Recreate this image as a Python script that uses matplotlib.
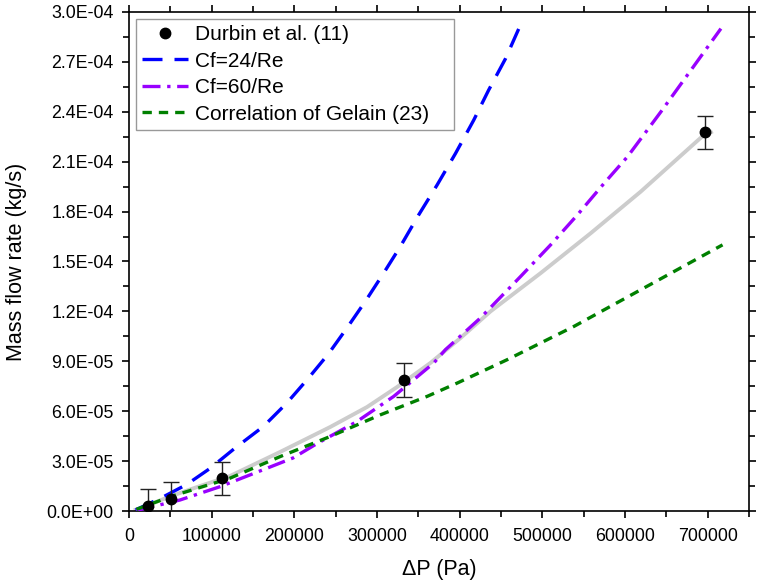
import numpy as np
import matplotlib.pyplot as plt
from matplotlib.lines import Line2D
from matplotlib.ticker import MultipleLocator, FuncFormatter

plt.rcParams['font.family'] = ['Liberation Sans', 'DejaVu Sans']

# Experimental data (Durbin et al.)
dp_exp = [23000, 50300, 112000, 333000, 697000]
m_exp = [3.2e-6, 7.2e-6, 1.97e-5, 7.87e-5, 2.277e-4]
m_err = [1.0e-5, 1.0e-5, 1.0e-5, 1.0e-5, 1.0e-5]

# grey guide curve through the data
dp_fit = [8000, 23000, 50000, 80000, 122000, 182800, 243400, 287900, 324200, 364600,
          401000, 437300, 497900, 558500, 619000, 691900, 704000]
m_fit = [0.8e-6, 3.5e-6, 8.8e-6, 1.4e-5, 2.1e-5, 3.55e-5, 5.05e-5, 6.25e-5, 7.45e-5, 8.9e-5,
         1.04e-4, 1.20e-4, 1.43e-4, 1.67e-4, 1.92e-4, 2.245e-4, 2.277e-4]

# Cf=24/Re
dp_24 = [8000, 41000, 70000, 98300, 128200, 162500, 190900, 217100, 241300, 263600,
         285800, 308000, 328200, 350400, 372700, 395000, 417000, 435000, 455500, 476000]
m_24 = [0.6e-6, 8.4e-6, 1.6e-5, 2.57e-5, 3.78e-5, 5.08e-5, 6.49e-5, 7.99e-5, 9.45e-5, 1.10e-4,
        1.26e-4, 1.43e-4, 1.59e-4, 1.78e-4, 1.96e-4, 2.15e-4, 2.35e-4, 2.53e-4, 2.72e-4, 2.95e-4]

# Cf=60/Re
dp_60 = [9000, 61600, 110000, 146400, 198500, 227300, 275800, 320200, 368700, 382800,
         425000, 473700, 510000, 542400, 574700, 603000, 643400, 716000]
m_60 = [0.3e-6, 6.6e-6, 1.46e-5, 2.17e-5, 3.19e-5, 4.05e-5, 5.38e-5, 6.89e-5, 8.9e-5, 9.7e-5,
        1.16e-4, 1.41e-4, 1.60e-4, 1.78e-4, 1.97e-4, 2.13e-4, 2.40e-4, 2.90e-4]

# Correlation of Gelain
dp_g = [9000, 50000, 122000, 182800, 243400, 304000, 360600, 397000, 457600, 538300, 619000, 718000]
m_g = [1.0e-6, 8.6e-6, 1.97e-5, 3.27e-5, 4.48e-5, 5.78e-5, 6.89e-5, 7.69e-5, 9.1e-5, 1.11e-4, 1.33e-4, 1.60e-4]

blue_ls = dict(color='#0000ff', lw=2.4, dashes=(6, 3.6))
purple_ls = dict(color='#9900ff', lw=2.4, dashes=(5.4, 2, 1, 2))
green_ls = dict(color='#008000', lw=2.4, dashes=(2.8, 2.1))

fig = plt.figure(figsize=(7.61, 5.81), dpi=100)
ax = fig.add_axes([129/761, 1-511/581, (749-129)/761, (511-12)/581])

ax.plot(dp_fit, m_fit, color='#cccccc', lw=2.8, zorder=2)
ax.plot(dp_24, m_24, zorder=3, **blue_ls)
ax.plot(dp_60, m_60, zorder=3, **purple_ls)
ax.plot(dp_g, m_g, zorder=3, **green_ls)
ax.errorbar(dp_exp, m_exp, yerr=m_err, fmt='o', color='black', ms=7.5, ecolor='#222222',
            elinewidth=1, capsize=5.5, capthick=1, zorder=4)

ax.set_xlim(0, 750000)
ax.set_ylim(0, 3.0e-4)
ax.xaxis.set_major_locator(MultipleLocator(100000))
ax.xaxis.set_minor_locator(MultipleLocator(50000))
ax.yaxis.set_major_locator(MultipleLocator(3.0e-5))
ax.yaxis.set_minor_locator(MultipleLocator(1.5e-5))
ax.xaxis.set_major_formatter(FuncFormatter(lambda v, p: '%d' % round(v)))
ax.yaxis.set_major_formatter(FuncFormatter(lambda v, p: '%.1E' % v if v else '0.0E+00'))
ax.tick_params(which='both', direction='out', top=True, right=True, width=1.2, labelsize=12.8)
ax.tick_params(which='major', length=5)
ax.tick_params(which='minor', length=4)
ax.tick_params(axis='y', pad=6)
ax.tick_params(axis='x', pad=7)
for s in ax.spines.values():
    s.set_linewidth(1.2)

ax.set_xlabel('ΔP (Pa)', fontsize=15.5, labelpad=10)
ax.set_ylabel('Mass flow rate (kg/s)', fontsize=15.5, labelpad=14)

handles = [
    Line2D([], [], ls='none', marker='o', color='black', ms=7.5),
    Line2D([], [], **blue_ls),
    Line2D([], [], **purple_ls),
    Line2D([], [], **green_ls),
]
labels = ['Durbin et al. (11)', 'Cf=24/Re', 'Cf=60/Re', 'Correlation of Gelain (23)']
leg = ax.legend(handles, labels, loc='upper left', mode='expand',
                bbox_to_anchor=(0.0113, 0.0, 0.513, 0.986), borderaxespad=0,
                fontsize=15, fancybox=False, edgecolor='#999999', framealpha=1,
                handlelength=2.2, handletextpad=0.33, borderpad=0.3, labelspacing=0.36)
leg.get_frame().set_linewidth(1.0)

fig.savefig('out.png', dpi=100)
